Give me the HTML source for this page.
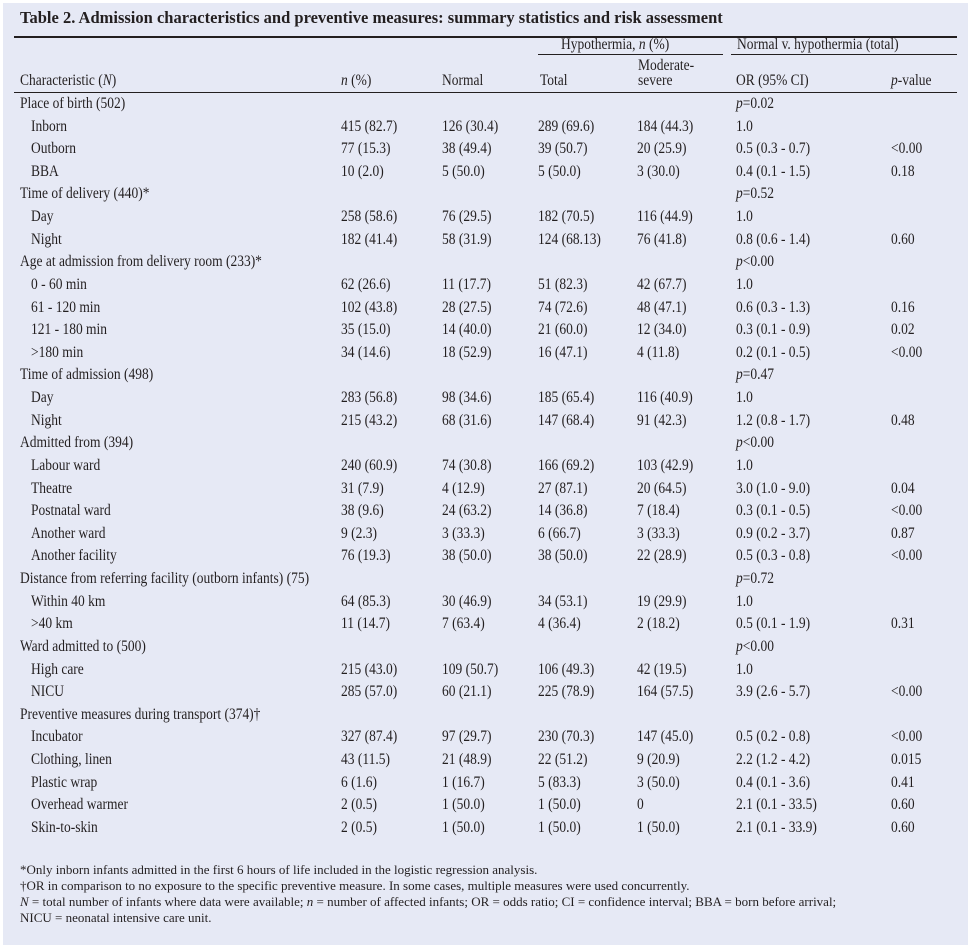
<!DOCTYPE html>
<html><head><meta charset="utf-8">
<style>
html,body{margin:0;padding:0}
body{width:971px;height:948px;background:#fff;position:relative;overflow:hidden;font-family:"Liberation Serif",serif;color:#231f20}
#bg{position:absolute;left:3px;top:3px;width:965px;height:942px;background:#e6e9f5}
.t{position:absolute;white-space:nowrap;font-size:15.5px;line-height:18px;transform:scaleX(0.87);transform-origin:0 0}
.f{position:absolute;white-space:nowrap;font-size:13px;line-height:14px}
.ln{position:absolute;background:#231f20}
</style></head><body>
<div id="bg"></div>
<div class="t" style="left:20px;top:9px;font-weight:bold;font-size:16.5px;transform:none">Table 2. Admission characteristics and preventive measures: summary statistics and risk assessment</div>
<div class="ln" style="left:14px;top:36px;width:943px;height:2px"></div>
<div class="t" style="left:561px;top:36px">Hypothermia, <i>n</i> (%)</div>
<div class="t" style="left:737px;top:36px">Normal v. hypothermia (total)</div>
<div class="ln" style="left:538px;top:54px;width:185px;height:1px"></div>
<div class="ln" style="left:731px;top:54px;width:226px;height:1px"></div>
<div class="t" style="left:20px;top:72px">Characteristic (<i>N</i>)</div>
<div class="t" style="left:341px;top:72px"><i>n</i> (%)</div>
<div class="t" style="left:442px;top:72px">Normal</div>
<div class="t" style="left:540px;top:72px">Total</div>
<div class="t" style="left:638px;top:58px;line-height:15px">Moderate-<br>severe</div>
<div class="t" style="left:736px;top:72px">OR (95% CI)</div>
<div class="t" style="left:891px;top:72px"><i>p</i>-value</div>
<div class="ln" style="left:14px;top:92px;width:943px;height:1px"></div>
<div id="rows"></div>
<div class="f" style="left:20px;top:863px">*Only inborn infants admitted in the first 6 hours of life included in the logistic regression analysis.</div>
<div class="f" style="left:20px;top:879px">†OR in comparison to no exposure to the specific preventive measure. In some cases, multiple measures were used concurrently.</div>
<div class="f" style="left:20px;top:895px"><i>N</i> = total number of infants where data were available; <i>n</i> = number of affected infants; OR = odds ratio; CI = confidence interval; BBA = born before arrival;</div>
<div class="f" style="left:20px;top:911px">NICU = neonatal intensive care unit.</div>
<script>
const rows=[
["g","Place of birth (502)","p=0.02"],
["Inborn","415 (82.7)","126 (30.4)","289 (69.6)","184 (44.3)","1.0",""],
["Outborn","77 (15.3)","38 (49.4)","39 (50.7)","20 (25.9)","0.5 (0.3 - 0.7)","<0.00"],
["BBA","10 (2.0)","5 (50.0)","5 (50.0)","3 (30.0)","0.4 (0.1 - 1.5)","0.18"],
["g","Time of delivery (440)*","p=0.52"],
["Day","258 (58.6)","76 (29.5)","182 (70.5)","116 (44.9)","1.0",""],
["Night","182 (41.4)","58 (31.9)","124 (68.13)","76 (41.8)","0.8 (0.6 - 1.4)","0.60"],
["g","Age at admission from delivery room (233)*","p<0.00"],
["0 - 60 min","62 (26.6)","11 (17.7)","51 (82.3)","42 (67.7)","1.0",""],
["61 - 120 min","102 (43.8)","28 (27.5)","74 (72.6)","48 (47.1)","0.6 (0.3 - 1.3)","0.16"],
["121 - 180 min","35 (15.0)","14 (40.0)","21 (60.0)","12 (34.0)","0.3 (0.1 - 0.9)","0.02"],
[">180 min","34 (14.6)","18 (52.9)","16 (47.1)","4 (11.8)","0.2 (0.1 - 0.5)","<0.00"],
["g","Time of admission (498)","p=0.47"],
["Day","283 (56.8)","98 (34.6)","185 (65.4)","116 (40.9)","1.0",""],
["Night","215 (43.2)","68 (31.6)","147 (68.4)","91 (42.3)","1.2 (0.8 - 1.7)","0.48"],
["g","Admitted from (394)","p<0.00"],
["Labour ward","240 (60.9)","74 (30.8)","166 (69.2)","103 (42.9)","1.0",""],
["Theatre","31 (7.9)","4 (12.9)","27 (87.1)","20 (64.5)","3.0 (1.0 - 9.0)","0.04"],
["Postnatal ward","38 (9.6)","24 (63.2)","14 (36.8)","7 (18.4)","0.3 (0.1 - 0.5)","<0.00"],
["Another ward","9 (2.3)","3 (33.3)","6 (66.7)","3 (33.3)","0.9 (0.2 - 3.7)","0.87"],
["Another facility","76 (19.3)","38 (50.0)","38 (50.0)","22 (28.9)","0.5 (0.3 - 0.8)","<0.00"],
["g","Distance from referring facility (outborn infants) (75)","p=0.72"],
["Within 40 km","64 (85.3)","30 (46.9)","34 (53.1)","19 (29.9)","1.0",""],
[">40 km","11 (14.7)","7 (63.4)","4 (36.4)","2 (18.2)","0.5 (0.1 - 1.9)","0.31"],
["g","Ward admitted to (500)","p<0.00"],
["High care","215 (43.0)","109 (50.7)","106 (49.3)","42 (19.5)","1.0",""],
["NICU","285 (57.0)","60 (21.1)","225 (78.9)","164 (57.5)","3.9 (2.6 - 5.7)","<0.00"],
["g","Preventive measures during transport (374)†",""],
["Incubator","327 (87.4)","97 (29.7)","230 (70.3)","147 (45.0)","0.5 (0.2 - 0.8)","<0.00"],
["Clothing, linen","43 (11.5)","21 (48.9)","22 (51.2)","9 (20.9)","2.2 (1.2 - 4.2)","0.015"],
["Plastic wrap","6 (1.6)","1 (16.7)","5 (83.3)","3 (50.0)","0.4 (0.1 - 3.6)","0.41"],
["Overhead warmer","2 (0.5)","1 (50.0)","1 (50.0)","0","2.1 (0.1 - 33.5)","0.60"],
["Skin-to-skin","2 (0.5)","1 (50.0)","1 (50.0)","1 (50.0)","2.1 (0.1 - 33.9)","0.60"]
];
const colX=[31,341,442,538,637,736,891];
const cont=document.getElementById('rows');
function mk(txt,x,y){
  const d=document.createElement('div');
  d.className='t';
  d.style.left=x+'px';d.style.top=y+'px';
  if(/^p[=<]/.test(txt)){d.innerHTML='<i>p</i>'+txt.slice(1).replace('<','&lt;');}
  else d.textContent=txt;
  cont.appendChild(d);return d;
}
rows.forEach((r,i)=>{
  const y=95+i*22.62;
  if(r[0]==='g'){
    const a=mk(r[1],20,y);
    
    
    if(r[2]){const b=mk(r[2],736,y);
      
      }
  } else {
    r.forEach((c,j)=>{ if(!c)return;
      const e=mk(c,colX[j],y);
      
      
    });
  }
});
</script>
</body></html>
